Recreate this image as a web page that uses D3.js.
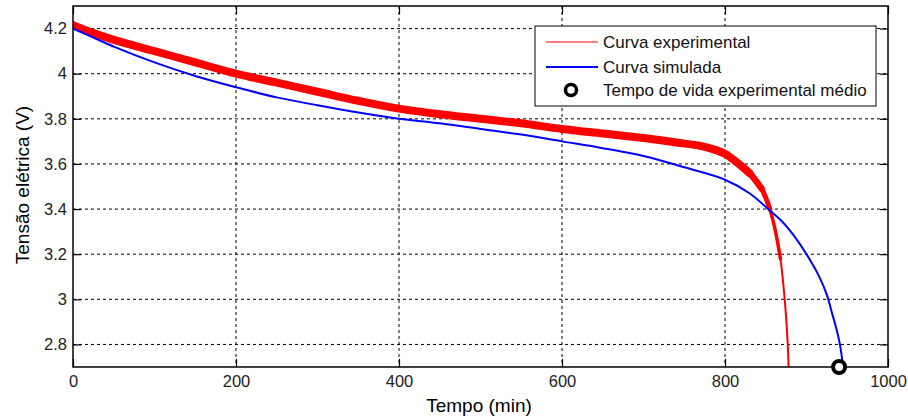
<!DOCTYPE html>
<html>
<head>
<meta charset="utf-8">
<script src="https://cdn.jsdelivr.net/npm/d3@7"></script>
<style>
  body { margin: 0; background: #fff; }
  text { font-family: "Liberation Sans", Arial, sans-serif; }
</style>
</head>
<body>
<div id="chart"></div>
<script>
// experimental discharge curve (min, V)
const expTime = [0, 25, 50, 100, 150, 200, 250, 300, 350, 400, 450, 500, 550, 600, 650, 700, 740, 770, 790, 800, 810, 830, 845, 855, 862, 868, 872, 875, 877, 878];
const expVolt = [4.215, 4.18, 4.15, 4.10, 4.05, 4.00, 3.96, 3.92, 3.88, 3.845, 3.82, 3.80, 3.78, 3.755, 3.735, 3.715, 3.695, 3.68, 3.66, 3.645, 3.62, 3.56, 3.49, 3.40, 3.30, 3.18, 3.05, 2.92, 2.80, 2.70];

// simulated curve
const simTime = [0, 25, 50, 100, 150, 200, 250, 300, 350, 400, 450, 500, 550, 600, 650, 700, 750, 800, 830, 853, 870, 885, 900, 915, 925, 932, 937, 941, 945];
const simVolt = [4.20, 4.16, 4.12, 4.05, 3.99, 3.94, 3.895, 3.86, 3.828, 3.80, 3.78, 3.755, 3.73, 3.70, 3.67, 3.635, 3.585, 3.53, 3.47, 3.40, 3.345, 3.28, 3.20, 3.105, 3.02, 2.93, 2.865, 2.80, 2.70];

// mean experimental life time
const lifeTime = [940];
const lifeVolt = [2.7];

const xTicks = [0, 200, 400, 600, 800, 1000];
const yTicks = [2.8, 3, 3.2, 3.4, 3.6, 3.8, 4, 4.2];
const legendLabels = ["Curva experimental", "Curva simulada", "Tempo de vida experimental médio"];

const width = 908, height = 418;
const margin = { top: 6, right: 20, bottom: 51, left: 73 };
const w = width - margin.left - margin.right;
const h = height - margin.top - margin.bottom;

const svg = d3.select("#chart").append("svg")
  .attr("width", width).attr("height", height);
const g = svg.append("g")
  .attr("transform", "translate(" + margin.left + "," + margin.top + ")");

const x = d3.scaleLinear().domain([0, 1000]).range([0, w]);
const y = d3.scaleLinear().domain([2.7, 4.3]).range([h, 0]);

// grid
g.selectAll(".gx").data(xTicks.slice(1, -1)).enter().append("line")
  .attr("x1", d => x(d)).attr("x2", d => x(d)).attr("y1", 0).attr("y2", h)
  .attr("stroke", "#000").attr("stroke-width", 1).attr("stroke-dasharray", "3,3");
g.selectAll(".gy").data(yTicks).enter().append("line")
  .attr("x1", 0).attr("x2", w).attr("y1", d => y(d)).attr("y2", d => y(d))
  .attr("stroke", "#000").attr("stroke-width", 1).attr("stroke-dasharray", "3,3");

// axes, ticks inward on all sides
const tk = 8;
const xAxis = g.append("g").attr("transform", "translate(0," + h + ")")
  .call(d3.axisBottom(x).tickValues(xTicks).tickSize(-tk).tickPadding(8).tickFormat(d3.format("d")));
const xTop = g.append("g")
  .call(d3.axisTop(x).tickValues(xTicks).tickSize(-tk).tickFormat(""));
const yAxis = g.append("g")
  .call(d3.axisLeft(y).tickValues(yTicks).tickSize(-tk).tickPadding(6).tickFormat(d => d3.format("")(d)));
const yRight = g.append("g").attr("transform", "translate(" + w + ",0)")
  .call(d3.axisRight(y).tickValues(yTicks).tickSize(-tk).tickFormat(""));
[xAxis, xTop, yAxis, yRight].forEach(a => {
  a.select(".domain").remove();
  a.selectAll(".tick line").attr("stroke", "#000").attr("stroke-width", 1.2);
  a.selectAll("text").attr("font-size", 16.5).attr("fill", "#222");
});

svg.append("clipPath").attr("id", "clip")
  .append("rect").attr("x", 0).attr("y", 0).attr("width", w).attr("height", h);

const line = d3.line().curve(d3.curveCatmullRom.alpha(0.5))
  .x(d => x(d[0])).y(d => y(d[1]));
const expData = expTime.map((t, i) => [t, expVolt[i]]);
const simData = simTime.map((t, i) => [t, simVolt[i]]);

const curves = g.append("g").attr("clip-path", "url(#clip)");

// experimental: the noisy band is thick and narrows down the knee
const taper = [
  { from: 855, to: 1000, sw: 2 },
  { from: 845, to: 868, sw: 3.5 },
  { from: 830, to: 858, sw: 5 },
  { from: 800, to: 847, sw: 6.5 },
  { from: 0, to: 832, sw: 8 }
];
taper.forEach(s => {
  curves.append("path").datum(expData.filter(d => d[0] >= s.from && d[0] <= s.to))
    .attr("fill", "none").attr("stroke", "#ff0000").attr("stroke-width", s.sw)
    .attr("stroke-linecap", "round").attr("stroke-linejoin", "round").attr("d", line);
});

curves.append("path").datum(simData)
  .attr("fill", "none").attr("stroke", "#0000ff").attr("stroke-width", 2).attr("d", line);

// box
g.append("rect").attr("width", w).attr("height", h)
  .attr("fill", "none").attr("stroke", "#000").attr("stroke-width", 1.5);

// life time marker
g.selectAll(".life").data(lifeTime).enter().append("circle")
  .attr("cx", d => x(d)).attr("cy", (d, i) => y(lifeVolt[i])).attr("r", 6)
  .attr("fill", "#fff").attr("stroke", "#000").attr("stroke-width", 4);

// axis titles
svg.append("text").attr("x", 479).attr("y", 412)
  .attr("text-anchor", "middle").attr("font-size", 19).attr("fill", "#000")
  .text("Tempo (min)");
svg.append("text").attr("transform", "translate(29,185) rotate(-90)")
  .attr("text-anchor", "middle").attr("font-size", 19).attr("fill", "#000")
  .text("Tensão elétrica (V)");

// legend
const lg = svg.append("g").attr("transform", "translate(535,26)");
lg.append("rect").attr("width", 341).attr("height", 80)
  .attr("fill", "#fff").attr("stroke", "#000").attr("stroke-width", 1);
const rowY = [16, 41, 64];
lg.append("line").attr("x1", 11).attr("x2", 63).attr("y1", rowY[0]).attr("y2", rowY[0])
  .attr("stroke", "#ff0000").attr("stroke-width", 1.2);
lg.append("line").attr("x1", 11).attr("x2", 63).attr("y1", rowY[1]).attr("y2", rowY[1])
  .attr("stroke", "#0000ff").attr("stroke-width", 2);
lg.append("circle").attr("cx", 36).attr("cy", rowY[2]).attr("r", 5.5)
  .attr("fill", "#fff").attr("stroke", "#000").attr("stroke-width", 3.5);
lg.selectAll(".lt").data(legendLabels).enter().append("text")
  .attr("x", 68).attr("y", (d, i) => rowY[i] + 6)
  .attr("font-size", 17).attr("fill", "#111")
  .text(d => d);
</script>
</body>
</html>
